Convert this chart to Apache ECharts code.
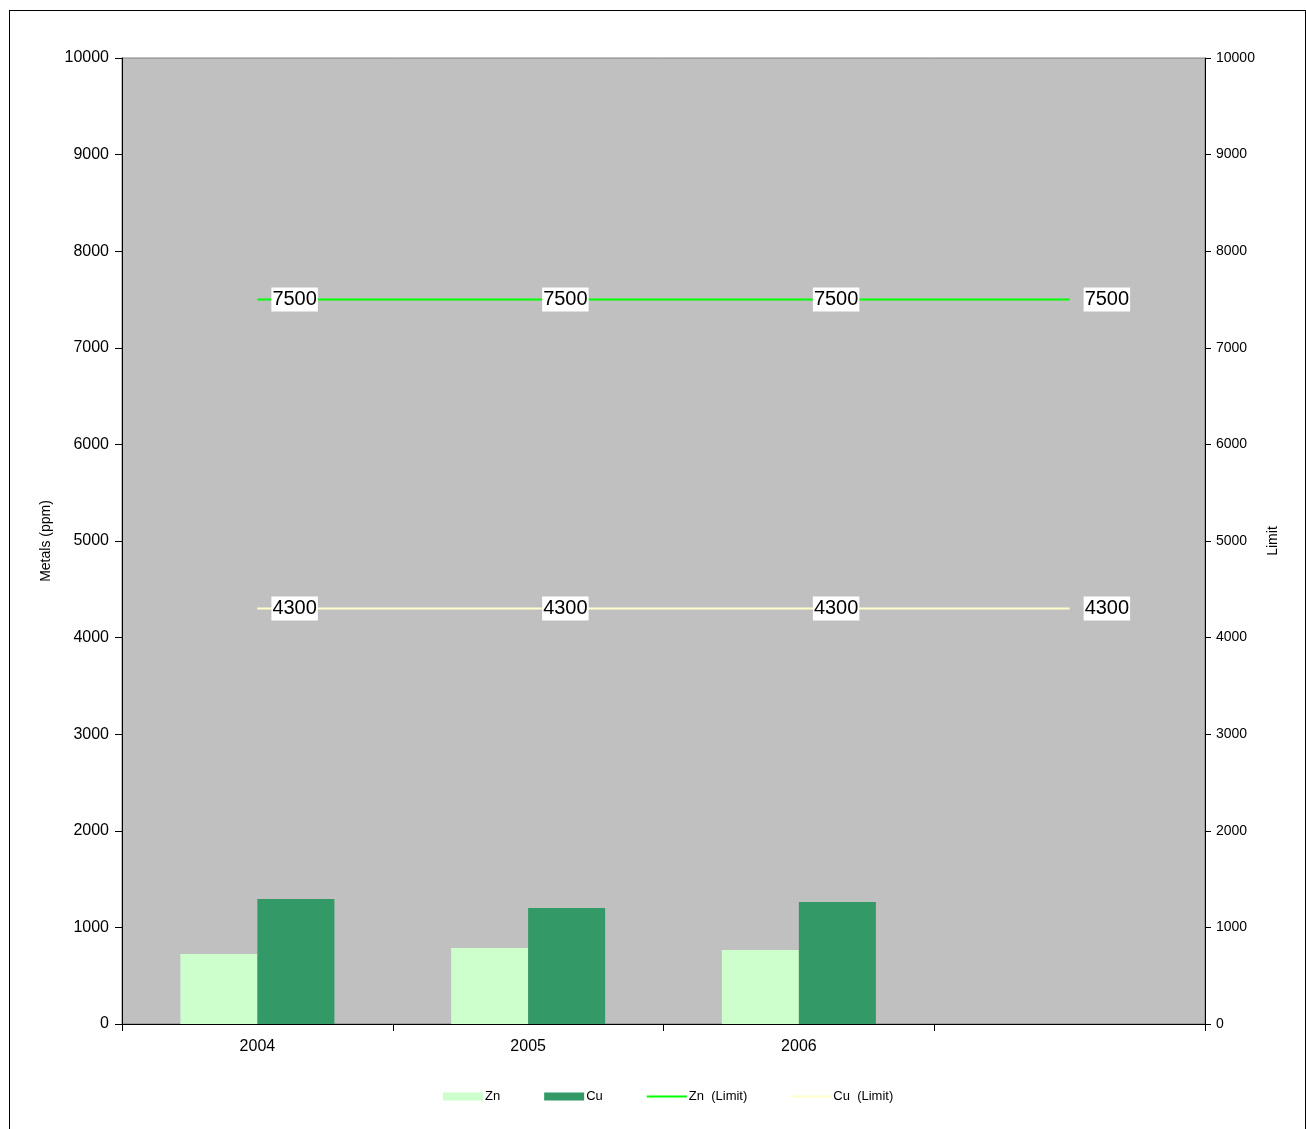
<!DOCTYPE html>
<html>
<head>
<meta charset="utf-8">
<script src="https://cdn.jsdelivr.net/npm/echarts@6/dist/echarts.min.js"></script>
<style>
  html, body { margin: 0; padding: 0; background: #fff; overflow: hidden; }
  #frame { position: absolute; left: 9px; top: 10px; width: 1297px; height: 1140px; border: 1px solid #000; box-sizing: border-box; }
  #chart { width: 1295px; height: 1138px; }
</style>
</head>
<body>
<div id="frame"><div id="chart"></div></div>
<script>
const years = ['2004', '2005', '2006', ''];
const zn = [725, 787, 766, null];
const cu = [1294, 1201, 1263, null];
const znLimit = [7500, 7500, 7500, 7500];
const cuLimit = [4300, 4300, 4300, 4300];

const font = 'Liberation Sans, Arial, sans-serif';
const plain = v => String(v);
const lineIcon = 'path://M0,0H40V2H0Z';

const chart = echarts.init(document.getElementById('chart'));

const limitLabel = {
  show: true,
  position: 'right',
  distance: 14,
  color: '#000',
  fontSize: 20,
  fontFamily: font,
  backgroundColor: '#fff',
  padding: [2, 1, 2, 1]
};

chart.setOption({
  animation: false,
  textStyle: { fontFamily: font },
  grid: {
    left: 112, right: 100, top: 47, bottom: 125,
    show: true, backgroundColor: '#C0C0C0', borderColor: '#808080', borderWidth: 1
  },
  legend: {
    bottom: 41,
    left: 428,
    itemWidth: 40,
    itemHeight: 8,
    itemGap: 44,
    symbolKeepAspect: true,
    textStyle: { fontSize: 13, color: '#000', padding: [0, 0, 0, -3] },
    data: [
      { name: 'Zn', icon: 'rect' },
      { name: 'Cu', icon: 'rect' },
      { name: 'Zn  (Limit)', icon: lineIcon },
      { name: 'Cu  (Limit)', icon: lineIcon }
    ]
  },
  xAxis: {
    type: 'category',
    data: years,
    boundaryGap: true,
    axisLine: { lineStyle: { color: '#000', width: 1 } },
    axisTick: { show: true, length: 7, lineStyle: { color: '#000' } },
    axisLabel: { color: '#000', fontSize: 16, margin: 15 },
    splitLine: { show: false }
  },
  yAxis: [
    {
      type: 'value', min: 0, max: 10000, interval: 1000,
      name: 'Metals (ppm)', nameLocation: 'middle', nameGap: 67,
      nameTextStyle: { fontSize: 14, color: '#000' },
      axisLine: { show: true, lineStyle: { color: '#000' } },
      axisTick: { show: true, length: 7, lineStyle: { color: '#000' } },
      axisLabel: { color: '#000', fontSize: 16, margin: 13, formatter: plain },
      splitLine: { show: false }
    },
    {
      type: 'value', min: 0, max: 10000, interval: 1000, position: 'right',
      name: 'Limit', nameLocation: 'middle', nameGap: 60, nameRotate: 90,
      nameTextStyle: { fontSize: 14, color: '#000' },
      axisLine: { show: true, lineStyle: { color: '#000' } },
      axisTick: { show: true, length: 6, lineStyle: { color: '#000' } },
      axisLabel: { color: '#000', fontSize: 14, margin: 11, formatter: plain },
      splitLine: { show: false }
    }
  ],
  series: [
    { name: 'Zn', type: 'bar', data: zn, barWidth: 77, barGap: '0%', itemStyle: { color: '#CCFFCC' } },
    { name: 'Cu', type: 'bar', data: cu, barWidth: 77, barGap: '0%', itemStyle: { color: '#339966' } },
    {
      name: 'Zn  (Limit)', type: 'line', yAxisIndex: 1, data: znLimit, symbol: 'circle', symbolSize: 0,
      lineStyle: { color: '#00FF00', width: 2 }, itemStyle: { color: '#00FF00' }, label: limitLabel
    },
    {
      name: 'Cu  (Limit)', type: 'line', yAxisIndex: 1, data: cuLimit, symbol: 'circle', symbolSize: 0,
      lineStyle: { color: '#FFFFCC', width: 2 }, itemStyle: { color: '#FFFFCC' }, label: limitLabel
    }
  ]
});
</script>
</body>
</html>
